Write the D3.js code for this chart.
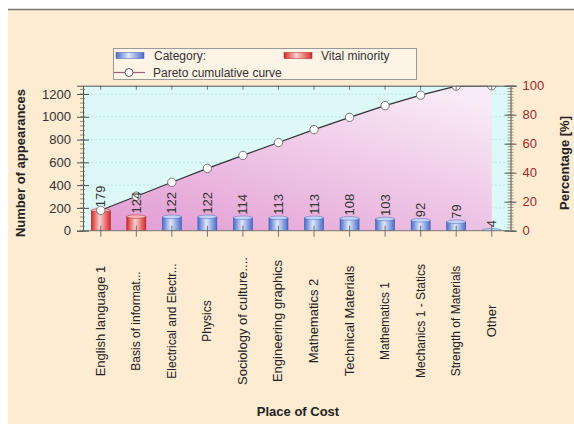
<!DOCTYPE html>
<html>
<head>
<meta charset="utf-8">
<script src="https://cdn.jsdelivr.net/npm/d3@7"></script>
<style>
  body { margin: 0; background: #fff; }
  svg { display: block; font-family: "Liberation Sans", Arial, sans-serif; }
</style>
</head>
<body>
<div id="my_dataviz"></div>
<script>
// chart data
var categories = ["English  language 1", "Basis of informat...", "Electrical and Electr...", "Physics",
  "Sociology of culture....", "Engineering graphics", "Mathematics 2", "Technical Materials",
  "Mathematics 1", "Mechanics 1 - Statics", "Strength of Materials", "Other"];
var counts = [179, 124, 122, 122, 114, 113, 113, 108, 103, 92, 79, 4];
var vitalCount = 2;   // first two bars are the vital minority
var leftTicks = [0, 200, 400, 600, 800, 1000, 1200];
var rightTicks = [0, 20, 40, 60, 80, 100];

// labels that render a bit smaller in the original
var smallLabels = ["Basis of informat...", "Electrical and Electr...", "Physics", "Mathematics 1",
  "Mechanics 1 - Statics", "Strength of Materials"];

var W = 574, H = 424;
var margin = {top: 85.7, left: 83},
    width = 426.5,
    height = 145;

var total = d3.sum(counts);
var cum = [];
counts.reduce(function(acc, v, i) { cum[i] = (acc + v) / total * 100; return acc + v; }, 0);

var svg = d3.select("#my_dataviz").append("svg")
  .attr("width", W).attr("height", H);

var defs = svg.append("defs");

function cylGrad(id, dark, light) {
  var g = defs.append("linearGradient").attr("id", id)
    .attr("x1", "0").attr("x2", "1").attr("y1", "0").attr("y2", "0");
  g.append("stop").attr("offset", "0%").attr("stop-color", dark);
  g.append("stop").attr("offset", "45%").attr("stop-color", light);
  g.append("stop").attr("offset", "100%").attr("stop-color", dark);
}
cylGrad("blueCyl", "#4a6cc8", "#dfe8fb");
cylGrad("redCyl", "#d42a2a", "#fbd0d0");

var pg = defs.append("linearGradient").attr("id", "pinkArea")
  .attr("x1", "0").attr("y1", "1").attr("x2", "0.8").attr("y2", "0");
pg.append("stop").attr("offset", "0%").attr("stop-color", "#e29ad2");
pg.append("stop").attr("offset", "100%").attr("stop-color", "#f8eaf6");

defs.append("clipPath").attr("id", "plotClip")
  .append("rect").attr("x", 0).attr("y", 0).attr("width", width).attr("height", height);

// page background
svg.append("rect").attr("x", 8).attr("y", 9).attr("width", W - 8).attr("height", H - 9)
  .attr("fill", "#fdebd2");
svg.append("line").attr("x1", 8).attr("x2", W).attr("y1", 9.5).attr("y2", 9.5)
  .attr("stroke", "#7a7470").attr("stroke-width", 1.5);

var g = svg.append("g")
  .attr("transform", "translate(" + margin.left + "," + margin.top + ")");

// scales
var x = d3.scaleBand().domain(categories).range([0, width]).padding(0);
var y = d3.scaleLinear().domain([0, total]).range([height, 0]);
var yp = d3.scaleLinear().domain([0, 100]).range([height, 0]);
var cx = function(d) { return x(d) + x.bandwidth() / 2; };

// plot background
g.append("rect").attr("width", width).attr("height", height).attr("fill", "#dcf9f8");

// grid
g.selectAll(".grid").data(leftTicks.slice(1)).enter().append("line")
  .attr("x1", 0).attr("x2", width)
  .attr("y1", function(d) { return y(d); }).attr("y2", function(d) { return y(d); })
  .attr("stroke", "#b9dede").attr("stroke-dasharray", "2,2").attr("stroke-width", 0.8);

var plot = g.append("g").attr("clip-path", "url(#plotClip)");

// pareto area
var pts = categories.map(function(c, i) { return [cx(c), yp(cum[i])]; });
var area = d3.area().x(function(d) { return d[0]; }).y0(height).y1(function(d) { return d[1]; });
plot.append("path").datum(pts).attr("d", area).attr("fill", "url(#pinkArea)");

// bars
var bw = 19;
var bars = plot.selectAll(".bar").data(counts).enter().append("g");
bars.append("rect")
  .attr("x", function(d, i) { return cx(categories[i]) - bw / 2; })
  .attr("y", function(d) { return y(d); })
  .attr("width", bw)
  .attr("height", function(d) { return height - y(d); })
  .attr("fill", function(d, i) { return i < vitalCount ? "url(#redCyl)" : "url(#blueCyl)"; })
  .attr("stroke", function(d, i) { return i < vitalCount ? "#b01818" : "#3a58b0"; })
  .attr("stroke-width", 0.6);
bars.append("ellipse")
  .attr("cx", function(d, i) { return cx(categories[i]); })
  .attr("cy", function(d) { return y(d); })
  .attr("rx", bw / 2).attr("ry", 1.8)
  .attr("fill", function(d, i) { return i < vitalCount ? "#f6b8b8" : "#c4d4f6"; })
  .attr("stroke", function(d, i) { return i < vitalCount ? "#c02020" : "#4a66bb"; })
  .attr("stroke-width", 0.5);

// x ticks (crossing baseline) and top ticks
g.selectAll(".xt").data(categories).enter().append("line")
  .attr("x1", cx).attr("x2", cx).attr("y1", height - 5).attr("y2", height + 6)
  .attr("stroke", "#555").attr("stroke-width", 0.8);
g.selectAll(".tt").data(categories).enter().append("line")
  .attr("x1", cx).attr("x2", cx).attr("y1", 0).attr("y2", 4)
  .attr("stroke", "#555").attr("stroke-width", 0.8);

// pareto line + points
plot.append("path").datum(pts).attr("d", d3.line())
  .attr("fill", "none").attr("stroke", "#333").attr("stroke-width", 1.2);
plot.selectAll(".pt").data(pts).enter().append("circle")
  .attr("cx", function(d) { return d[0]; }).attr("cy", function(d) { return d[1]; })
  .attr("r", 4.2).attr("fill", "#fff").attr("stroke", "#666").attr("stroke-width", 0.9);

// bar value labels
g.selectAll(".val").data(counts).enter().append("text")
  .attr("transform", function(d, i) {
    return "translate(" + (cx(categories[i]) + 4.5) + "," + (y(d) - 3) + ")rotate(-90)";
  })
  .attr("font-size", 13).attr("fill", "#333")
  .text(function(d) { return d; });

// frame lines
g.append("line").attr("x1", 0).attr("x2", width).attr("y1", 0.5).attr("y2", 0.5)
  .attr("stroke", "#555").attr("stroke-width", 1);
g.append("line").attr("x1", 0).attr("x2", width).attr("y1", height).attr("y2", height)
  .attr("stroke", "#777").attr("stroke-width", 1);

// left axis
var yl = g.append("g").call(d3.axisLeft(y).tickValues(leftTicks).tickFormat(d3.format("d"))
  .tickSize(6).tickPadding(6));
yl.select(".domain").attr("stroke", "#555");
yl.selectAll(".tick line").attr("x2", -6).attr("x1", 6).attr("stroke", "#555");
yl.selectAll("text").attr("font-size", 13).attr("fill", "#333")
  .attr("font-family", "Liberation Sans, Arial, sans-serif").attr("x", -12);
g.selectAll(".lminor").data(d3.range(0, 1241, 40)).enter().append("line")
  .attr("x1", -3).attr("x2", 2).attr("y1", function(d) { return y(d); }).attr("y2", function(d) { return y(d); })
  .attr("stroke", "#666").attr("stroke-width", 0.7);

// right axis
var yr = g.append("g").attr("transform", "translate(" + (width + 1) + ",0)")
  .call(d3.axisRight(yp).tickValues(rightTicks).tickSize(6).tickPadding(6));
yr.select(".domain").attr("stroke", "#555");
yr.selectAll(".tick line").attr("x1", -6).attr("x2", 6).attr("stroke", "#555");
yr.selectAll("text").attr("font-size", 13).attr("fill", "#a02a28")
  .attr("font-family", "Liberation Sans, Arial, sans-serif").attr("x", 12);
g.selectAll(".rminor").data(d3.range(0, 101, 2)).enter().append("line")
  .attr("x1", width - 2).attr("x2", width + 4)
  .attr("y1", function(d) { return yp(d); }).attr("y2", function(d) { return yp(d); })
  .attr("stroke", "#666").attr("stroke-width", 0.6);

// category labels
g.selectAll(".cat").data(categories).enter().append("text")
  .attr("transform", function(d) { return "translate(" + (cx(d) + 4) + "," + (321 - margin.top) + ")rotate(-90)"; })
  .attr("text-anchor", "middle")
  .attr("font-size", function(d) { return smallLabels.indexOf(d) >= 0 ? 12 : 13; })
  .attr("fill", "#222")
  .text(function(d) { return d; });

// axis titles
svg.append("text").attr("transform", "translate(25,163)rotate(-90)")
  .attr("text-anchor", "middle").attr("font-size", 13).attr("font-weight", "bold").attr("fill", "#222")
  .text("Number of appearances");
svg.append("text").attr("transform", "translate(569,163)rotate(-90)")
  .attr("text-anchor", "middle").attr("font-size", 13).attr("font-weight", "bold").attr("fill", "#222")
  .text("Percentage [%]");
svg.append("text").attr("x", 298).attr("y", 416)
  .attr("text-anchor", "middle").attr("font-size", 13).attr("font-weight", "bold").attr("fill", "#222")
  .text("Place of Cost");

// legend
var lg = svg.append("g");
lg.append("rect").attr("x", 113.5).attr("y", 48.5).attr("width", 303).attr("height", 31)
  .attr("fill", "#fdf4e6").attr("stroke", "#999");
lg.append("rect").attr("x", 116).attr("y", 52.5).attr("width", 28).attr("height", 6)
  .attr("fill", "url(#blueCyl)").attr("stroke", "#3a58b0").attr("stroke-width", 0.5);
lg.append("rect").attr("x", 284).attr("y", 52.5).attr("width", 28).attr("height", 6)
  .attr("fill", "url(#redCyl)").attr("stroke", "#b01818").attr("stroke-width", 0.5);
lg.append("line").attr("x1", 114).attr("x2", 145).attr("y1", 72.5).attr("y2", 72.5)
  .attr("stroke", "#a06080").attr("stroke-width", 1.2);
lg.append("circle").attr("cx", 129).attr("cy", 72.5).attr("r", 4)
  .attr("fill", "#fff").attr("stroke", "#555");
[["Category:", 154, 60], ["Vital minority", 321, 60], ["Pareto cumulative curve", 153, 76.5]].forEach(function(t) {
  lg.append("text").attr("x", t[1]).attr("y", t[2]).attr("font-size", 12).attr("fill", "#333").text(t[0]);
});
</script>
</body>
</html>
